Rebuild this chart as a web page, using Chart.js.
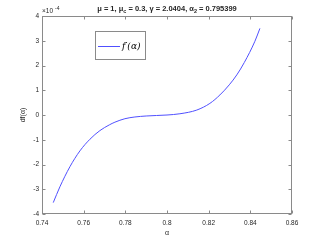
<!DOCTYPE html>
<html><head><meta charset="utf-8">
<script src="https://cdn.jsdelivr.net/npm/chart.js@4/dist/chart.umd.min.js"></script>
<style>html,body{margin:0;padding:0;background:#fff}#wrap{width:322px;height:241px}</style>
</head><body><div id="wrap"><canvas id="c" width="322" height="241"></canvas></div>
<script>
const alphaValues = [0.7454,0.7486,0.7534,0.7582,0.7630,0.7678,0.7723,0.7750,0.7798,0.7846,0.7900,0.7950,0.8000,0.8062,0.8143,0.8206,0.8254,0.8299,0.8335,0.8371,0.8422,0.8446];
const dfValues   = [-3.54,-2.90,-2.09,-1.45,-0.98,-0.63,-0.40,-0.29,-0.15,-0.08,-0.04,-0.02,0.0,0.05,0.20,0.47,0.81,1.22,1.62,2.12,2.98,3.50];
const xTicks = [0.74,0.76,0.78,0.8,0.82,0.84,0.86];
const yTicks = [-4,-3,-2,-1,0,1,2,3,4];
const seriesLabel = "f′(α)";

const TXT = '#262626';
const FONT = '"Liberation Sans", Arial, sans-serif';

const decor = {
  id:'decor',
  afterDraw(chart){
    const ctx = chart.ctx, a = chart.chartArea;
    const xs = chart.scales.x, ys = chart.scales.y;
    ctx.save();
    ctx.strokeStyle = '#8a8a8a'; ctx.lineWidth = 1;
    const L = Math.round(a.left)+0.5, R = Math.round(a.right)-0.5, T = Math.round(a.top)+0.5, B = Math.round(a.bottom)-0.5;
    ctx.strokeRect(L, T, R-L, B-T);
    ctx.beginPath();
    xTicks.forEach(v=>{ const p=Math.round(xs.getPixelForValue(v))+0.5; ctx.moveTo(p,B); ctx.lineTo(p,B-3); ctx.moveTo(p,T); ctx.lineTo(p,T+3); });
    yTicks.forEach(v=>{ const p=Math.round(ys.getPixelForValue(v))+0.5; ctx.moveTo(L,p); ctx.lineTo(L+3,p); ctx.moveTo(R,p); ctx.lineTo(R-3,p); });
    ctx.stroke();
    ctx.fillStyle = TXT;
    ctx.font = '6.5px '+FONT; ctx.textBaseline='alphabetic'; ctx.textAlign='left';
    ctx.fillText('×10', a.left, a.top-3);
    ctx.font = '5px '+FONT;
    ctx.fillText('-4', a.left+13, a.top-6);
    const parts = [['μ = 1, μ',0],['c',1],[' = 0.3, γ = 2.0404, α',0],['2',1],[' = 0.795399',0]];
    const mainF = 'bold 7.5px '+FONT, subF = 'bold 5.5px '+FONT;
    let w=0; parts.forEach(p=>{ctx.font=p[1]?subF:mainF; w+=ctx.measureText(p[0]).width;});
    let x = (a.left+a.right)/2 - w/2; const ty = 11;
    parts.forEach(p=>{ctx.font=p[1]?subF:mainF; ctx.fillText(p[0], x, p[1]?ty+2:ty); x+=ctx.measureText(p[0]).width;});
    ctx.font = '7px '+FONT; ctx.textAlign='center';
    ctx.fillText('α', (a.left+a.right)/2, 235);
    ctx.save(); ctx.translate(25, (a.top+a.bottom)/2); ctx.rotate(-Math.PI/2);
    ctx.fillText('df(α)', 0, 0); ctx.restore();
    const lx = 95.5, ly = 31.5, lw = 50, lh = 28;
    ctx.fillStyle='#fff'; ctx.fillRect(lx,ly,lw,lh);
    ctx.strokeStyle='#8a8a8a'; ctx.strokeRect(lx,ly,lw,lh);
    ctx.strokeStyle='rgb(80,80,255)'; ctx.lineWidth=1;
    ctx.beginPath(); ctx.moveTo(98,46.5); ctx.lineTo(120,46.5); ctx.stroke();
    ctx.fillStyle='#000'; ctx.textAlign='left'; ctx.textBaseline='middle';
    ctx.font = 'italic 9px "DejaVu Serif", "Liberation Serif", serif';
    ctx.fillText(seriesLabel, 122, 46.5);
    ctx.restore();
  }
};

new Chart(document.getElementById('c'), {
  type:'scatter',
  data:{ datasets:[{ label:seriesLabel, data: alphaValues.map((a,i)=>({x:a,y:dfValues[i]})), showLine:true, borderColor:'rgb(80,80,255)', borderWidth:1, pointRadius:0, cubicInterpolationMode:'monotone' }]},
  options:{
    responsive:false, animation:false, devicePixelRatio:1,
    layout:{padding:{left:0,right:30,top:16,bottom:0}},
    plugins:{legend:{display:false}, tooltip:{enabled:false}, title:{display:false}},
    scales:{
      x:{ type:'linear', min:0.74, max:0.86,
          afterBuildTicks(s){ s.ticks = xTicks.map(v=>({value:v})); },
          afterFit(s){ s.height = 27; },
          grid:{display:false, drawTicks:false}, border:{display:false},
          ticks:{ color:TXT, font:{family:FONT,size:6.5}, padding:5, maxRotation:0, autoSkip:false,
                  callback:(v)=>String(+v.toFixed(2)) } },
      y:{ type:'linear', min:-4, max:4,
          afterBuildTicks(s){ s.ticks = yTicks.map(v=>({value:v})); },
          afterFit(s){ s.width = 42; },
          grid:{display:false, drawTicks:false}, border:{display:false},
          ticks:{ color:TXT, font:{family:FONT,size:6.5}, padding:3, autoSkip:false,
                  callback:(v)=>String(v) } }
    }
  },
  plugins:[decor]
});
</script></body></html>
